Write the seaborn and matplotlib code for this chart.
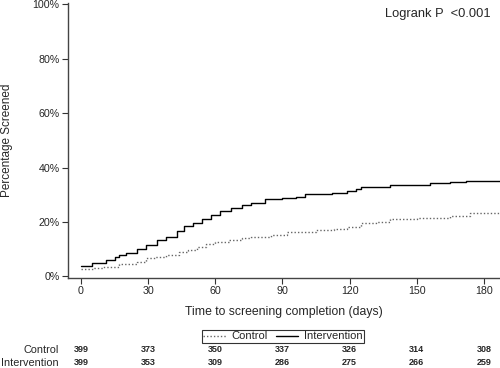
import pandas as pd
import seaborn as sns
import matplotlib.pyplot as plt
import matplotlib.transforms as mtransforms
from matplotlib.ticker import PercentFormatter

# --- data ---
ctrl_day = [0, 6, 10, 17, 25, 29, 33, 38, 44, 48, 52, 56, 60, 66, 72, 76, 85, 92,
            105, 113, 119, 125, 132, 138, 150, 165, 174, 187]
ctrl_pct = [2.7, 3.0, 3.5, 4.4, 5.4, 6.6, 7.0, 7.8, 9.0, 9.8, 10.9, 11.8, 12.7, 13.5,
            14.2, 14.6, 15.3, 16.4, 17.0, 17.3, 18.2, 19.5, 20.0, 21.0, 21.5, 22.2, 23.2, 23.2]
int_day = [0, 5, 11, 15, 17, 20, 25, 29, 34, 38, 43, 46, 50, 54, 58, 62, 67, 72, 76,
           82, 90, 96, 100, 112, 119, 123, 125, 138, 156, 165, 172, 187]
int_pct = [3.9, 5.0, 6.0, 7.0, 7.8, 8.7, 10.1, 11.5, 13.3, 14.6, 16.8, 18.5, 19.7, 21.0,
           22.5, 24.1, 25.0, 26.2, 27.1, 28.3, 28.8, 29.3, 30.1, 30.6, 31.3, 32.2, 32.7,
           33.6, 34.2, 34.8, 35.2, 35.2]

risk_times = [0, 30, 60, 90, 120, 150, 180]
risk_control = [399, 373, 350, 337, 326, 314, 308]
risk_intervention = [399, 353, 309, 286, 275, 266, 259]

df = pd.concat([
    pd.DataFrame({'day': ctrl_day, 'pct': ctrl_pct, 'group': 'Control'}),
    pd.DataFrame({'day': int_day, 'pct': int_pct, 'group': 'Intervention'}),
])

sns.set_style('white')
plt.rcParams['font.family'] = ['Liberation Sans', 'DejaVu Sans']

fig = plt.figure(figsize=(5, 3.68), dpi=100)
ax = fig.add_axes([0.136, 0.2454, 0.864, 0.7465])

sns.lineplot(data=df, x='day', y='pct', hue='group', style='group',
             palette={'Control': '#666666', 'Intervention': 'black'},
             dashes={'Control': (1, 1.5), 'Intervention': ''},
             estimator=None, drawstyle='steps-post', linewidth=1.0,
             legend=False, ax=ax)

ax.set_xlim(-5.8, 187.2)
ax.set_ylim(-0.5, 100.5)
ax.set_xticks(risk_times)
ax.set_yticks([0, 20, 40, 60, 80, 100])
ax.yaxis.set_major_formatter(PercentFormatter(decimals=0))
ax.tick_params(direction='out', length=4, width=0.8, color='#333333',
               labelsize=7.7, left=True, bottom=True, pad=2)
sns.despine(ax=ax)
for s in ['left', 'bottom']:
    ax.spines[s].set_color('#444444')
    ax.spines[s].set_linewidth(1.0)

ax.set_xlabel('Time to screening completion (days)', fontsize=8.8, labelpad=7)
ax.set_ylabel('')
fig.text(0.015, 0.62, 'Percentage Screened', rotation=90, ha='center',
         va='center', fontsize=8.5)
fig.text(0.982, 0.962, 'Logrank P  <0.001', ha='right', va='center', fontsize=9.3)

# legend
handles = [plt.Line2D([], [], color='#666666', lw=1.0, dashes=(1, 1.5)),
           plt.Line2D([], [], color='black', lw=1.0)]
leg = fig.legend(handles, ['Control', 'Intervention'], loc='center',
                 bbox_to_anchor=(0.566, 0.0856), ncol=2, fontsize=8,
                 frameon=True, fancybox=False, handlelength=2.0,
                 handletextpad=0.5, columnspacing=0.8, borderpad=0.15,
                 borderaxespad=0)
leg.get_frame().set_edgecolor('black')
leg.get_frame().set_linewidth(0.8)

# number at risk table
trans = mtransforms.blended_transform_factory(ax.transData, fig.transFigure)
for lab, vals, yf in [('Control', risk_control, 0.049),
                      ('Intervention', risk_intervention, 0.0144)]:
    fig.text(0.117, yf, lab, ha='right', va='center', fontsize=7.8)
    for t, v in zip(risk_times, vals):
        ax.text(t, yf, str(v), transform=trans, ha='center', va='center',
                fontsize=6.5, fontweight='bold')

fig.savefig('out.png', dpi=100)
